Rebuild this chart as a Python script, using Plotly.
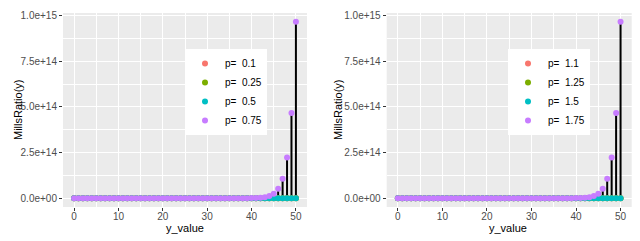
import plotly.graph_objects as go

# ---------------- data ----------------
y_value = list(range(51))

left_labels = ["p=\u00a0 0.1", "p=\u00a0 0.25", "p=\u00a0 0.5", "p=\u00a0 0.75"]
right_labels = ["p=\u00a0 1.1", "p=\u00a0 1.25", "p=\u00a0 1.5", "p=\u00a0 1.75"]

near_zero = [0, 0, 0, 0, 0, 0, 0, 0, 0, 0,
             0, 0, 0, 0, 0, 0, 0, 0, 0, 0,
             0, 0, 0, 0, 0, 0, 0, 0, 0, 0,
             0, 0, 0, 0, 0, 0, 0, 0, 0, 0,
             0, 0, 0, 0, 0, 0, 0, 0, 0, 0, 0]

left_p075 = [0, 0, 0, 0, 0, 0, 0, 0, 0, 0,
             0, 0, 0, 0, 0, 0, 0, 0, 0, 0,
             0, 0, 0, 0, 0, 0, 0, 0, 0, 0,
             0, 0, 0, 0, 0, 0, 0, 0, 0, 3.0e11,
             6.2e11, 1.3e12, 2.7e12, 5.6e12, 1.17e13, 2.45e13, 5.1e13, 1.07e14, 2.23e14, 4.67e14, 9.66e14]

right_p175 = [0, 0, 0, 0, 0, 0, 0, 0, 0, 0,
              0, 0, 0, 0, 0, 0, 0, 0, 0, 0,
              0, 0, 0, 0, 0, 0, 0, 0, 0, 0,
              0, 0, 0, 0, 0, 0, 0, 0, 0, 3.0e11,
              6.2e11, 1.3e12, 2.7e12, 5.6e12, 1.17e13, 2.45e13, 5.1e13, 1.07e14, 2.23e14, 4.67e14, 9.66e14]

left_series = [near_zero, near_zero, near_zero, left_p075]
right_series = [near_zero, near_zero, near_zero, right_p175]

colors = ["#F8766D", "#7CAE00", "#00BFC4", "#C77CFF"]

ytick_vals = [0, 2.5e14, 5e14, 7.5e14, 1e15]
ytick_text = ["0.0e+00", "2.5e+14", "5.0e+14", "7.5e+14", "1.0e+15"]
xtick_vals = [0, 10, 20, 30, 40, 50]

# ---------------- figure ----------------
W, H = 640, 241
fig = go.Figure()

FONT = "Liberation Sans, Arial, sans-serif"


def stems(xs, series_list):
    sx, sy = [], []
    for s in series_list:
        for x, v in zip(xs, s):
            sx += [x, x, None]
            sy += [0, v, None]
    return sx, sy


panels = [
    ("x", "y", left_series, left_labels, "legend"),
    ("x2", "y2", right_series, right_labels, "legend2"),
]

for xa, ya, series_list, labels, leg in panels:
    sx, sy = stems(y_value, series_list)
    fig.add_trace(go.Scatter(x=sx, y=sy, mode="lines", xaxis=xa, yaxis=ya,
                             line=dict(color="black", width=2),
                             showlegend=False, hoverinfo="skip"))
    for s, lab, c in zip(series_list, labels, colors):
        fig.add_trace(go.Scatter(x=y_value, y=s, mode="markers", name=lab,
                                 xaxis=xa, yaxis=ya, legend=leg,
                                 marker=dict(color=c, size=6, line=dict(width=0))))

left_dom = [63 / W, 307 / W]
right_dom = [386.7 / W, 631.7 / W]
ydom = [1 - 207 / H, 1 - 13 / H]

axis_common = dict(
    showline=False, zeroline=False, ticks="outside", ticklen=3, tickwidth=1,
    tickcolor="#333333", tickfont=dict(family=FONT, size=10, color="#4D4D4D"),
    showgrid=True, gridcolor="white", gridwidth=1.1, automargin=False,
)

xcommon = dict(axis_common, range=[-2.5, 52.5], tickmode="array", tickvals=xtick_vals,
               ticklabelstandoff=-3,
               minor=dict(tickmode="linear", tick0=5, dtick=10, showgrid=True,
                          gridcolor="white", gridwidth=0.55, ticklen=0))
ycommon = dict(axis_common, range=[-4.83e13, 1.0143e15], tickmode="array",
               tickvals=ytick_vals, ticktext=ytick_text,
               minor=dict(tickmode="linear", tick0=1.25e14, dtick=2.5e14, showgrid=True,
                          gridcolor="white", gridwidth=0.55, ticklen=0))

legend_common = dict(xanchor="left", yanchor="top", bgcolor="white",
                     font=dict(family=FONT, size=10, color="black"))

fig.update_layout(
    width=W, height=H,
    margin=dict(l=0, r=0, t=0, b=0),
    paper_bgcolor="white", plot_bgcolor="#EBEBEB",
    font=dict(family=FONT),
    xaxis=dict(xcommon, domain=left_dom, anchor="y"),
    yaxis=dict(ycommon, domain=ydom, anchor="x"),
    xaxis2=dict(xcommon, domain=right_dom, anchor="y2"),
    yaxis2=dict(ycommon, domain=ydom, anchor="x2"),
    legend=dict(legend_common, x=185 / W, y=1 - 49 / H),
    legend2=dict(legend_common, x=508 / W, y=1 - 49 / H),
    showlegend=True,
)

annots = [
    dict(text="MillsRatio(y)", x=18 / W, y=1 - 110 / H, textangle=-90),
    dict(text="MillsRatio(y)", x=338 / W, y=1 - 110 / H, textangle=-90),
    dict(text="y_value", x=185 / W, y=1 - 228 / H),
    dict(text="y_value", x=508 / W, y=1 - 228 / H),
]
for a in annots:
    fig.add_annotation(xref="paper", yref="paper", showarrow=False,
                       xanchor="center", yanchor="middle",
                       font=dict(family=FONT, size=11, color="black"), **a)

fig.write_html("out.html", config={"displayModeBar": False},
               post_script="document.body.style.margin='0';document.body.style.overflow='hidden';")
